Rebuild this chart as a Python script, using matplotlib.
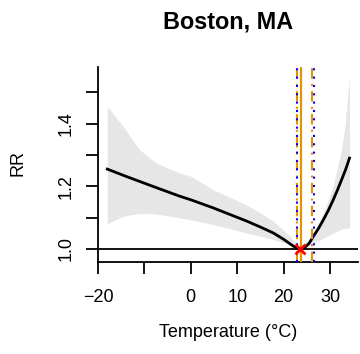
import matplotlib
matplotlib.use("Agg")
import matplotlib.pyplot as plt

plt.rcParams['font.family'] = ['Liberation Sans', 'DejaVu Sans']

# exposure-response curve (relative risk vs temperature)
temp = [-18.0, -14.0, -10.2, -6.0, -2.3, 0.0, 4.85, 8.45, 12.05, 15.0, 17.8,
        20.0, 22.1, 23.5, 24.5, 25.5, 26.4, 27.5, 28.6, 29.7, 30.7, 31.6,
        32.5, 33.4, 34.2]
rr = [1.255, 1.232, 1.211, 1.188, 1.168, 1.157, 1.131, 1.110, 1.089, 1.070,
      1.051, 1.031, 1.009, 1.000, 1.004, 1.018, 1.040, 1.065, 1.094, 1.125,
      1.157, 1.188, 1.221, 1.255, 1.290]

# 95% confidence band
temp_ci = [-18.0, -16.0, -14.5, -12.7, -11.0, -9.0, -7.4, -4.5, -2.3, 0.0,
           4.85, 8.45, 12.05, 15.0, 17.8, 20.0, 21.4, 23.5, 24.5, 26.4,
           28.6, 30.7, 32.5, 33.2, 34.2]
rr_low = [1.080, 1.095, 1.104, 1.110, 1.113, 1.113, 1.111, 1.105, 1.099, 1.093,
          1.078, 1.065, 1.051, 1.041, 1.030, 1.020, 1.014, 1.000, 1.003, 1.019,
          1.035, 1.051, 1.063, 1.066, 1.068]
rr_high = [1.455, 1.418, 1.390, 1.350, 1.317, 1.292, 1.274, 1.255, 1.242, 1.232,
           1.189, 1.165, 1.140, 1.115, 1.088, 1.060, 1.040, 1.000, 1.015, 1.050,
           1.115, 1.200, 1.320, 1.390, 1.550]

mmt = 23.5           # minimum mortality temperature
mmt_line = 23.65
ci_orange = [22.95, 26.2]
ci_blue = [22.9, 26.45]

xticks = [-20, -10, 0, 10, 20, 30]
xlabels = ['\u221220', '', '0', '10', '20', '30']
yticks = [1.0, 1.1, 1.2, 1.3, 1.4, 1.5]
ylabels = ['1.0', '', '1.2', '', '1.4', '']

orange = '#E09400'

fig = plt.figure(figsize=(3.6, 3.54), dpi=100)
ax = fig.add_axes([0.2722, 0.2599, 0.7222, 0.5508])

ax.fill_between(temp_ci, rr_low, rr_high, color='#E6E6E6', lw=0, zorder=1)
ax.axhline(1.0, color='black', lw=1.3, zorder=2)
ax.plot(temp, rr, color='black', lw=2.0, zorder=3)

ax.axvline(mmt_line, color=orange, lw=1.6, zorder=4)
for xv in ci_orange:
    ax.axvline(xv, color=orange, lw=1.5, linestyle=(0, (5, 2.5, 1, 2.5)), zorder=4)
for xv in ci_blue:
    ax.axvline(xv, color='blue', lw=1.5, linestyle=(0, (1, 3)), zorder=5)
ax.plot([mmt], [1.0], marker='x', color='red', ms=7, mew=2, zorder=6)

ax.set_xlim(-20, 36.03)
ax.set_ylim(0.9585, 1.5807)

for s in ['top', 'right']:
    ax.spines[s].set_visible(False)
for s in ['left', 'bottom']:
    ax.spines[s].set_linewidth(1.3)

ax.set_xticks(xticks)
ax.set_xticklabels(xlabels)
ax.set_yticks(yticks)
ax.set_yticklabels(ylabels, rotation=90, va='center')
ax.tick_params(axis='both', length=8.5, width=1.3, labelsize=13, color='black')
ax.tick_params(axis='x', pad=11)
ax.tick_params(axis='y', pad=8)

ax.set_xlabel('Temperature (\u00b0C)', fontsize=13)
ax.xaxis.label.set_va('center')
ax.xaxis.set_label_coords(0.5, -0.364)
ax.set_ylabel('RR', fontsize=13)
ax.yaxis.label.set_va('center')
ax.yaxis.set_label_coords(-0.3077, 0.508)

fig.text(0.633, 1 - 22 / 354, 'Boston, MA', ha='center', va='center',
         fontsize=16.8, fontweight='bold')

fig.savefig('out.png', dpi=100)
